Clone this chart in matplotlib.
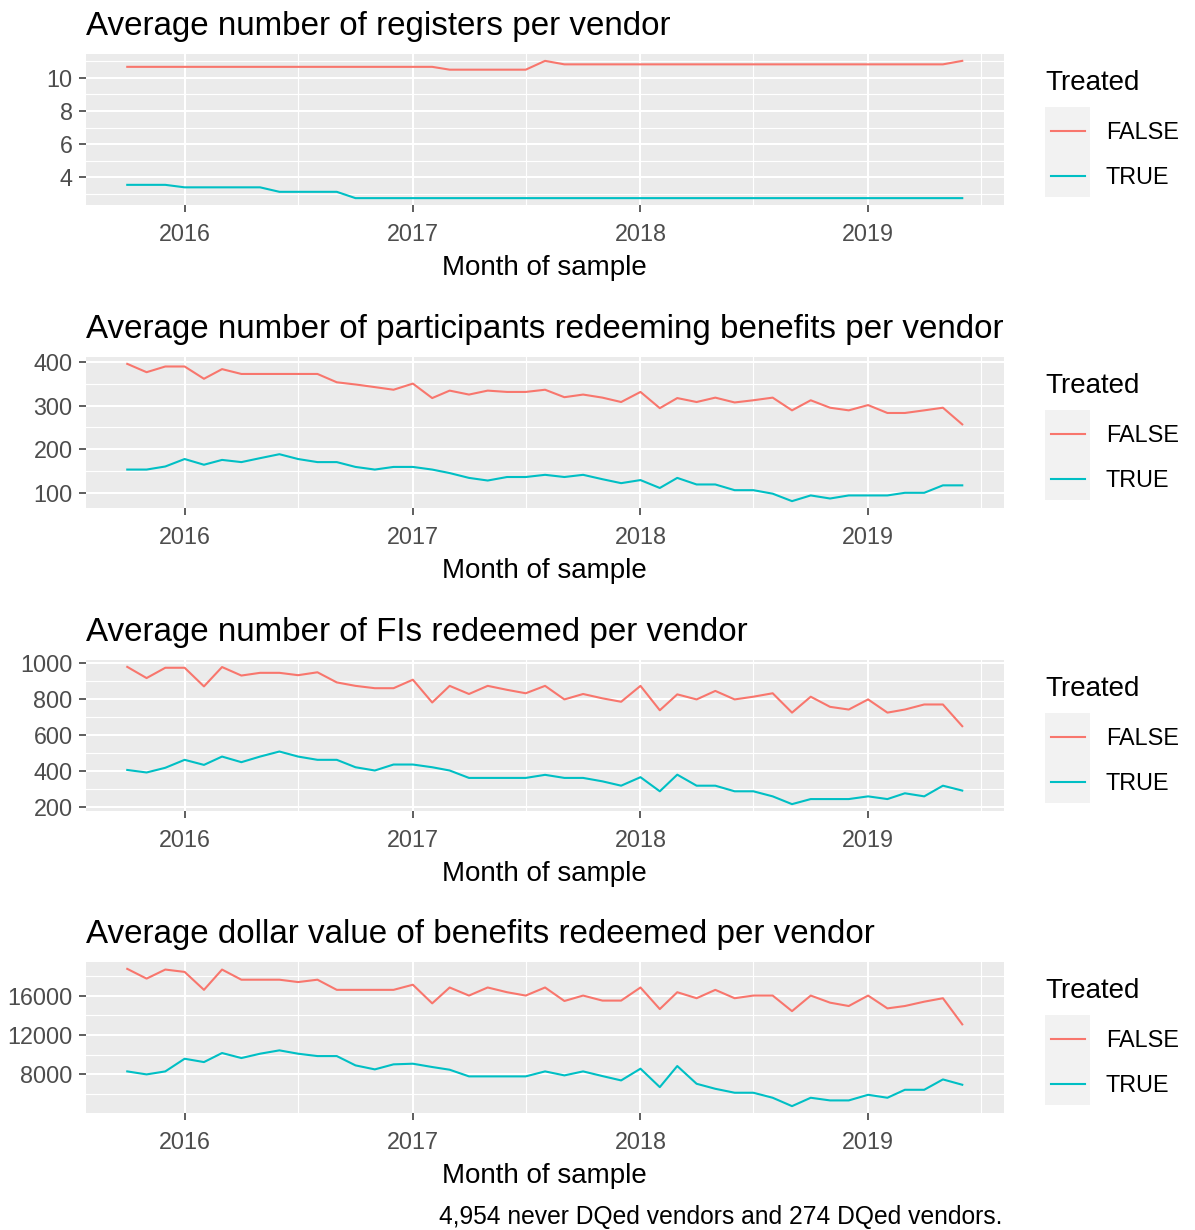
import numpy as np
import pandas as pd
import matplotlib
matplotlib.use('Agg')
import matplotlib.pyplot as plt
import matplotlib.dates as mdates
from matplotlib.ticker import MultipleLocator
from matplotlib.lines import Line2D
from matplotlib.patches import Rectangle

plt.rcParams['font.family'] = ['Liberation Sans', 'DejaVu Sans']

# monthly sample, Oct 2015 .. Jun 2019
months = pd.date_range('2015-10-01', periods=45, freq='MS')

titles = [
    'Average number of registers per vendor',
    'Average number of participants redeeming benefits per vendor',
    'Average number of FIs redeemed per vendor',
    'Average dollar value of benefits redeemed per vendor',
]

reg_false = [10.65, 10.65, 10.65, 10.65, 10.65, 10.65, 10.65, 10.65, 10.65, 10.65,
             10.65, 10.65, 10.65, 10.65, 10.65, 10.65, 10.65, 10.48, 10.48, 10.48,
             10.48, 10.48, 11.01, 10.80, 10.80, 10.80, 10.80, 10.80, 10.80, 10.80,
             10.80, 10.80, 10.80, 10.80, 10.80, 10.80, 10.80, 10.80, 10.80, 10.80,
             10.80, 10.80, 10.80, 10.80, 11.01]
reg_true = [3.55, 3.55, 3.55, 3.40, 3.40, 3.40, 3.40, 3.40, 3.13, 3.13,
            3.13, 3.13, 2.75, 2.75, 2.75, 2.75, 2.75, 2.75, 2.75, 2.75,
            2.75, 2.75, 2.75, 2.75, 2.75, 2.75, 2.75, 2.75, 2.75, 2.75,
            2.75, 2.75, 2.75, 2.75, 2.75, 2.75, 2.75, 2.75, 2.75, 2.75,
            2.75, 2.75, 2.75, 2.75, 2.75]

part_false = [395, 376, 389, 389, 361, 383, 372, 372, 372, 372,
              372, 353, 348, 342, 336, 350, 317, 334, 325, 334,
              331, 331, 336, 319, 325, 318, 308, 331, 294, 317,
              308, 318, 307, 312, 318, 289, 312, 295, 289, 301,
              283, 283, 289, 295, 257]
part_true = [154, 154, 161, 178, 165, 176, 171, 180, 189, 178,
             171, 171, 160, 154, 160, 160, 154, 146, 135, 129,
             137, 137, 142, 137, 142, 132, 123, 130, 112, 135,
             120, 120, 107, 107, 99, 82, 95, 88, 95, 95,
             95, 101, 101, 118, 118]

fi_false = [977, 915, 972, 972, 869, 976, 929, 944, 944, 931,
            947, 891, 872, 859, 859, 906, 780, 872, 827, 872,
            850, 831, 872, 797, 827, 803, 784, 872, 737, 825,
            797, 844, 797, 812, 831, 724, 812, 756, 741, 797,
            724, 741, 769, 769, 649]
fi_true = [407, 393, 419, 463, 435, 481, 450, 481, 509, 481,
           463, 463, 422, 404, 437, 437, 422, 404, 363, 363,
           363, 363, 380, 363, 363, 344, 320, 367, 289, 381,
           320, 320, 289, 289, 261, 218, 246, 246, 246, 261,
           246, 278, 261, 320, 293]

dol_false = [18710, 17720, 18640, 18400, 16580, 18640, 17610, 17610, 17610, 17370,
             17610, 16580, 16580, 16580, 16580, 17100, 15210, 16820, 16000, 16820,
             16340, 16000, 16820, 15450, 16000, 15490, 15490, 16820, 14630, 16340,
             15730, 16580, 15730, 16000, 16000, 14420, 16000, 15280, 14940, 16000,
             14700, 14940, 15380, 15730, 13080]
dol_true = [8305, 8000, 8305, 9590, 9250, 10170, 9660, 10100, 10440, 10100,
            9860, 9860, 8915, 8510, 9020, 9085, 8750, 8475, 7800, 7800,
            7800, 7800, 8305, 7900, 8305, 7830, 7390, 8580, 6710, 8850,
            7050, 6540, 6140, 6140, 5630, 4780, 5630, 5360, 5360, 5930,
            5630, 6440, 6440, 7490, 6950]

series = [(reg_false, reg_true), (part_false, part_true),
          (fi_false, fi_true), (dol_false, dol_true)]
y_steps = [(2, 1), (100, 50), (200, 100), (4000, 2000)]

legend_title = 'Treated'
legend_labels = ['FALSE', 'TRUE']
colors = ['#F8766D', '#00BFC4']
caption = '4,954 never DQed vendors and 274 DQed vendors.'

# layout in pixels
W, H = 1195, 1230
PANEL_L, PANEL_R = 85.5, 1004
PANEL_TOPS = [54, 357, 660, 962]
PANEL_H = 151


def fx(px):
    return px / W


def fy(py):
    return 1 - py / H


fig = plt.figure(figsize=(W / 100, H / 100), dpi=100)

for k in range(4):
    top = PANEL_TOPS[k]
    ax = fig.add_axes([fx(PANEL_L), fy(top + PANEL_H),
                       (PANEL_R - PANEL_L) / W, PANEL_H / H])
    ax.set_facecolor('#EBEBEB')
    for s in ax.spines.values():
        s.set_visible(False)

    f_vals, t_vals = series[k]
    ax.plot(months, f_vals, color=colors[0], lw=1.5)
    ax.plot(months, t_vals, color=colors[1], lw=1.5)

    ax.xaxis.set_major_locator(mdates.YearLocator())
    ax.xaxis.set_major_formatter(mdates.DateFormatter('%Y'))
    ax.xaxis.set_minor_locator(mdates.MonthLocator(bymonth=7))
    ax.yaxis.set_major_locator(MultipleLocator(y_steps[k][0]))
    ax.yaxis.set_minor_locator(MultipleLocator(y_steps[k][1]))

    ax.set_axisbelow(True)
    ax.grid(which='major', color='white', lw=1.5)
    ax.grid(which='minor', color='white', lw=0.8)
    ax.tick_params(which='major', length=5, width=1.1, color='#333333',
                   labelsize=16.8, labelcolor='#4D4D4D')
    ax.tick_params(axis='x', pad=8)
    ax.tick_params(axis='y', pad=4.3)
    ax.tick_params(which='minor', length=0)

    # title, x label
    fig.text(fx(PANEL_L), fy(top - 19), titles[k], fontsize=23.9,
             va='baseline', ha='left')
    fig.text(fx((PANEL_L + PANEL_R) / 2), fy(top + PANEL_H + 70),
             'Month of sample', fontsize=20, va='baseline', ha='center')

    # legend
    fig.text(fx(1045), fy(top + 29), legend_title, fontsize=20,
             va='center', ha='left')
    fig.add_artist(Rectangle((fx(1045), fy(top + 142.7)), 45 / W, 90 / H,
                             transform=fig.transFigure, facecolor='#F2F2F2',
                             edgecolor='none'))
    for j in range(2):
        ky = top + 76.5 + 45 * j
        fig.add_artist(Line2D([fx(1051), fx(1085)], [fy(ky), fy(ky)],
                              transform=fig.transFigure, color=colors[j], lw=1.5))
        fig.text(fx(1106), fy(ky + 2), legend_labels[j], fontsize=16.8,
                 va='center', ha='left')

fig.text(fx(1002), fy(1224), caption, fontsize=17.7, va='baseline', ha='right')

fig.savefig('out.png', dpi=100)
